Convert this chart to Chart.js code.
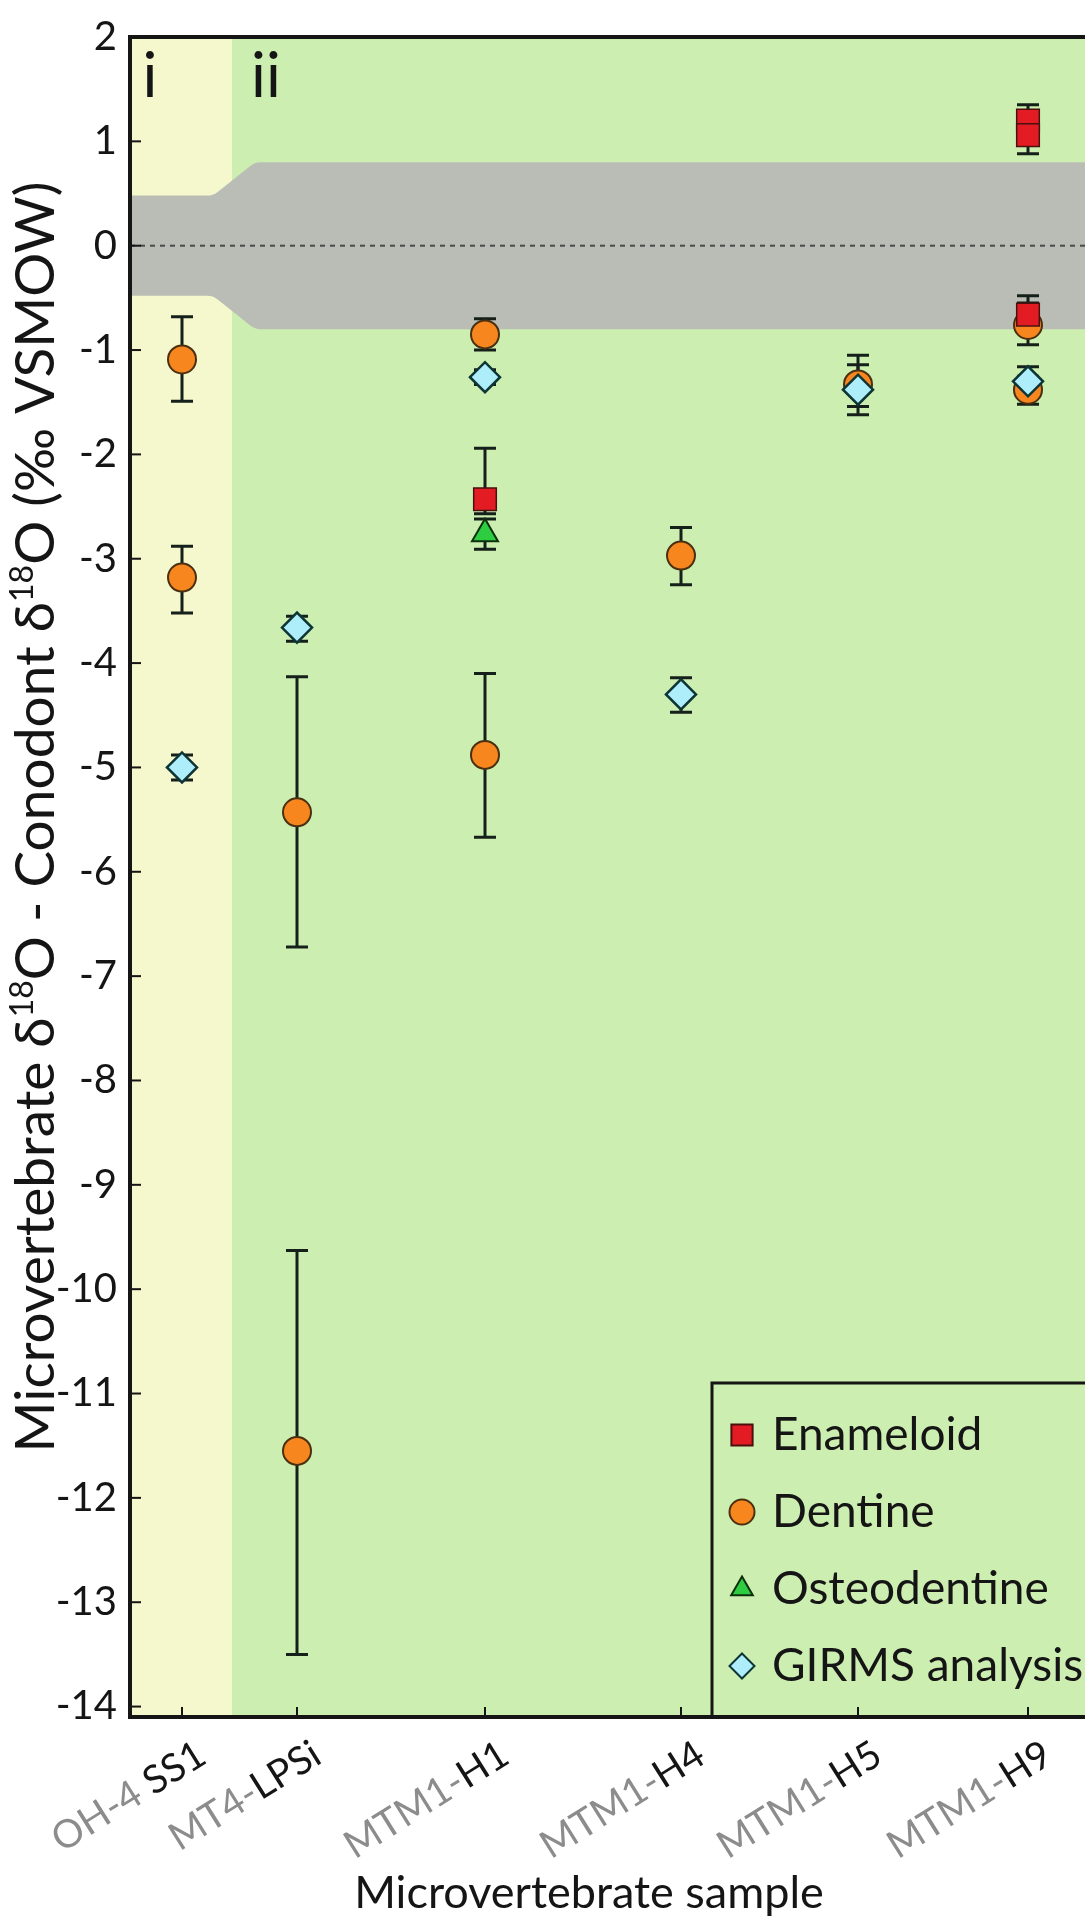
<!DOCTYPE html>
<html>
<head>
<meta charset="utf-8">
<title>Microvertebrate - Conodont d18O</title>
<script src="https://cdn.jsdelivr.net/npm/chart.js@4.4.1/dist/chart.umd.min.js"></script>
<style>
    html, body { margin: 0; padding: 0; background: #ffffff; }
    #wrap { width: 1085px; height: 1923px; }
</style>
</head>
<body>
<div id="wrap"><canvas id="isoChart" width="1085" height="1923"></canvas></div>
<script>
// Amostras do eixo x (prefixo cinza + sufixo preto) e posição no eixo
const samplePrefix = ['OH-4 ', 'MT4-', 'MTM1-', 'MTM1-', 'MTM1-', 'MTM1-'];
const sampleSuffix = ['SS1', 'LPSi', 'H1', 'H4', 'H5', 'H9'];
const samplePos = [0.52, 1.67, 3.55, 5.51, 7.28, 8.98];

// Eixo y
const yTickValues = [2, 1, 0, -1, -2, -3, -4, -5, -6, -7, -8, -9, -10, -11, -12, -13, -14];
const yMax = 2;
const yMin = -14.1;
const xMin = 0;
const xMax = 9.55;

// Enameloid
const enameloidSample = [2, 5, 5, 5];
const enameloidValue = [-2.43, 1.2, 1.06, -0.66];
const enameloidLow = [-2.57, 1.08, 0.88, -0.82];
const enameloidHigh = [-1.94, 1.35, 1.18, -0.48];

// Dentine
const dentineSample = [0, 0, 1, 1, 2, 2, 3, 4, 5, 5];
const dentineValue = [-1.09, -3.18, -5.43, -11.55, -0.85, -4.88, -2.97, -1.33, -0.76, -1.38];
const dentineLow = [-1.49, -3.52, -6.72, -13.5, -1.0, -5.67, -3.25, -1.62, -0.95, -1.52];
const dentineHigh = [-0.68, -2.88, -4.13, -9.63, -0.7, -4.1, -2.7, -1.05, -0.55, -1.25];

// Osteodentine
const osteoSample = [2];
const osteoValue = [-2.76];
const osteoLow = [-2.91];
const osteoHigh = [-2.62];

// GIRMS analysis
const girmsSample = [0, 1, 2, 3, 4, 5];
const girmsValue = [-5.0, -3.66, -1.26, -4.3, -1.38, -1.3];
const girmsLow = [-5.12, -3.79, -1.33, -4.47, -1.54, -1.45];
const girmsHigh = [-4.88, -3.55, -1.19, -4.14, -1.14, -1.16];

// Zonas de fundo (i / ii) e faixa cinza em torno de zero
const zoneBreak = 1.02;
const bandX = [0, 0.83, 1.25, 9.6];
const bandHalf = [0.48, 0.48, 0.8, 0.8];
const zoneLabels = ['i', 'ii'];
const zoneLabelX = [0.2, 1.36];

const FONT = "Lato, 'Open Sans', sans-serif";
const INK = '#151515';

function buildPoints(samples, values, lows, highs) {
    return values.map((v, i) => ({ x: samplePos[samples[i]], y: v, lo: lows[i], hi: highs[i] }));
}

// Desenha um marcador (usado na legenda)
function drawMarker(ctx, style, cx, cy, r) {
    ctx.beginPath();
    if (style === 'circle') {
        ctx.arc(cx, cy, r, 0, Math.PI * 2);
    } else if (style === 'rect') {
        const s = r * Math.SQRT1_2;
        ctx.rect(cx - s, cy - s, 2 * s, 2 * s);
    } else if (style === 'triangle') {
        ctx.moveTo(cx, cy - r);
        ctx.lineTo(cx + r * 0.866, cy + r * 0.5);
        ctx.lineTo(cx - r * 0.866, cy + r * 0.5);
        ctx.closePath();
    } else {
        ctx.moveTo(cx, cy - r);
        ctx.lineTo(cx + r, cy);
        ctx.lineTo(cx, cy + r);
        ctx.lineTo(cx - r, cy);
        ctx.closePath();
    }
    ctx.fill();
    ctx.stroke();
}

// Fundo: zonas, faixa cinza e linha pontilhada em zero
const backgroundPlugin = {
    id: 'zonesBackground',
    beforeDraw(chart) {
        const { ctx, chartArea: a, scales: { x, y } } = chart;
        const xb = x.getPixelForValue(zoneBreak);
        ctx.save();
        ctx.fillStyle = '#f5f7cd';
        ctx.fillRect(a.left, a.top, xb - a.left, a.bottom - a.top);
        ctx.fillStyle = '#cdeeb1';
        ctx.fillRect(xb, a.top, chart.width - xb, a.bottom - a.top);

        const top = bandX.map((v, i) => [x.getPixelForValue(v), y.getPixelForValue(bandHalf[i])]);
        const bot = bandX.map((v, i) => [x.getPixelForValue(v), y.getPixelForValue(-bandHalf[i])]).reverse();
        const pts = top.concat(bot);
        ctx.fillStyle = '#babdb5';
        ctx.beginPath();
        ctx.moveTo(pts[0][0], pts[0][1]);
        for (let i = 1; i < pts.length; i++) {
            if (i === 1 || i === 2 || i === 5 || i === 6) {
                ctx.arcTo(pts[i][0], pts[i][1], pts[i + 1][0], pts[i + 1][1], 16);
            } else {
                ctx.lineTo(pts[i][0], pts[i][1]);
            }
        }
        ctx.closePath();
        ctx.fill();

        const y0 = y.getPixelForValue(0);
        ctx.strokeStyle = '#4a4a4a';
        ctx.lineWidth = 2;
        ctx.setLineDash([5, 5]);
        ctx.beginPath();
        ctx.moveTo(a.left, y0);
        ctx.lineTo(chart.width, y0);
        ctx.stroke();
        ctx.restore();
    }
};

// Barras de erro desenhadas por baixo dos marcadores
const errorBarPlugin = {
    id: 'errorBars',
    beforeDatasetsDraw(chart) {
        const { ctx, scales: { x, y } } = chart;
        ctx.save();
        ctx.strokeStyle = '#16201a';
        ctx.lineWidth = 3;
        chart.data.datasets.forEach(ds => {
            ds.data.forEach(p => {
                const px = x.getPixelForValue(p.x);
                const yl = y.getPixelForValue(p.lo);
                const yh = y.getPixelForValue(p.hi);
                ctx.beginPath();
                ctx.moveTo(px, yl);
                ctx.lineTo(px, yh);
                ctx.moveTo(px - 11, yl);
                ctx.lineTo(px + 11, yl);
                ctx.moveTo(px - 11, yh);
                ctx.lineTo(px + 11, yh);
                ctx.stroke();
            });
        });
        ctx.restore();
    }
};

// Moldura, marcas, rótulos do eixo x, títulos e legenda
const decorPlugin = {
    id: 'decor',
    afterDraw(chart) {
        const { ctx, chartArea: a, scales: { x, y } } = chart;
        const right = chart.width + 2;
        ctx.save();

        // marcas internas
        ctx.strokeStyle = INK;
        ctx.lineWidth = 2;
        yTickValues.forEach(v => {
            const py = y.getPixelForValue(v);
            ctx.beginPath();
            ctx.moveTo(a.left, py);
            ctx.lineTo(a.left + 11, py);
            ctx.stroke();
        });
        samplePos.forEach(v => {
            const px = x.getPixelForValue(v);
            ctx.beginPath();
            ctx.moveTo(px, a.bottom);
            ctx.lineTo(px, a.bottom - 10);
            ctx.stroke();
        });

        // moldura
        ctx.lineWidth = 4;
        ctx.beginPath();
        ctx.moveTo(right, a.top);
        ctx.lineTo(a.left, a.top);
        ctx.lineTo(a.left, a.bottom);
        ctx.lineTo(right, a.bottom);
        ctx.stroke();

        // rótulos das zonas
        ctx.fillStyle = INK;
        ctx.font = '62px ' + FONT;
        ctx.textAlign = 'center';
        ctx.textBaseline = 'alphabetic';
        zoneLabels.forEach((t, i) => ctx.fillText(t, x.getPixelForValue(zoneLabelX[i]), a.top + 60));

        // rótulos do eixo x (rotacionados, duas cores)
        ctx.font = '39px ' + FONT;
        ctx.textAlign = 'left';
        ctx.textBaseline = 'middle';
        samplePos.forEach((v, i) => {
            const wp = ctx.measureText(samplePrefix[i]).width;
            const ws = ctx.measureText(sampleSuffix[i]).width;
            ctx.save();
            ctx.translate(x.getPixelForValue(v) + 20, a.bottom + 34);
            ctx.rotate(-32 * Math.PI / 180);
            ctx.fillStyle = '#8c8c8c';
            ctx.fillText(samplePrefix[i], -(wp + ws), 0);
            ctx.fillStyle = INK;
            ctx.fillText(sampleSuffix[i], -ws, 0);
            ctx.restore();
        });

        // título do eixo x, ajustado à largura do original
        const xTitle = 'Microvertebrate sample';
        ctx.font = '46px ' + FONT;
        const titleSize = 46 * 470 / ctx.measureText(xTitle).width;
        ctx.fillStyle = INK;
        ctx.font = titleSize.toFixed(1) + 'px ' + FONT;
        ctx.textAlign = 'center';
        ctx.textBaseline = 'alphabetic';
        ctx.fillText(xTitle, 589, 1908);

        // título do eixo y com sobrescritos
        const parts = [['Microvertebrate \u03b4', false], ['18', true], ['O - Conodont \u03b4', false], ['18', true], ['O (\u2030 VSMOW)', false]];
        const big = '55px ' + FONT;
        const small = '32px ' + FONT;
        let total = 0;
        parts.forEach(p => { ctx.font = p[1] ? small : big; total += ctx.measureText(p[0]).width; });
        ctx.save();
        ctx.translate(36, (a.top + a.bottom) / 2 - 60);
        ctx.rotate(-Math.PI / 2);
        ctx.textAlign = 'left';
        ctx.textBaseline = 'middle';
        let cx = -total / 2;
        parts.forEach(p => {
            ctx.font = p[1] ? small : big;
            ctx.fillText(p[0], cx, p[1] ? -13 : 0);
            cx += ctx.measureText(p[0]).width;
        });
        ctx.restore();

        // legenda
        const lx = 712, ly = 1383;
        ctx.lineWidth = 3;
        ctx.strokeStyle = INK;
        ctx.strokeRect(lx, ly, 500, a.bottom - ly);
        ctx.font = '46px ' + FONT;
        ctx.textAlign = 'left';
        ctx.textBaseline = 'middle';
        chart.data.datasets.forEach((ds, i) => {
            const rowY = ly + 52 + i * 77;
            ctx.fillStyle = ds.backgroundColor;
            ctx.strokeStyle = ds.borderColor;
            ctx.lineWidth = 2;
            drawMarker(ctx, ds.pointStyle, lx + 30, rowY, ds.pointStyle === 'rect' ? 15 : 12.5);
            ctx.fillStyle = INK;
            ctx.fillText(ds.label, lx + 60, rowY);
        });

        ctx.restore();
    }
};

new Chart(document.getElementById('isoChart').getContext('2d'), {
    type: 'scatter',
    data: {
        datasets: [
            {
                label: 'Enameloid',
                data: buildPoints(enameloidSample, enameloidValue, enameloidLow, enameloidHigh),
                pointStyle: 'rect',
                pointRadius: 16,
                backgroundColor: '#e31b23',
                borderColor: '#4a1010',
                borderWidth: 1.5,
                order: 1
            },
            {
                label: 'Dentine',
                data: buildPoints(dentineSample, dentineValue, dentineLow, dentineHigh),
                pointStyle: 'circle',
                pointRadius: 14,
                backgroundColor: '#f7861f',
                borderColor: '#4a3010',
                borderWidth: 2,
                order: 3
            },
            {
                label: 'Osteodentine',
                data: buildPoints(osteoSample, osteoValue, osteoLow, osteoHigh),
                pointStyle: 'triangle',
                pointRadius: 15,
                backgroundColor: '#2ecc40',
                borderColor: '#0c300c',
                borderWidth: 2,
                order: 2
            },
            {
                label: 'GIRMS analysis',
                data: buildPoints(girmsSample, girmsValue, girmsLow, girmsHigh),
                pointStyle: 'rectRot',
                pointRadius: 15,
                backgroundColor: '#aeeefa',
                borderColor: '#0e3535',
                borderWidth: 2.5,
                order: 0
            }
        ]
    },
    options: {
        responsive: false,
        animation: false,
        layout: { autoPadding: false, padding: { top: 28, right: 0, left: 0, bottom: 0 } },
        plugins: {
            legend: { display: false },
            tooltip: { enabled: false }
        },
        scales: {
            x: {
                type: 'linear',
                min: xMin,
                max: xMax,
                grid: { display: false },
                border: { display: false },
                ticks: { display: false },
                afterFit: s => { s.height = 206; s.paddingLeft = 0; s.paddingRight = 0; }
            },
            y: {
                type: 'linear',
                min: yMin,
                max: yMax,
                grid: { display: false, drawTicks: false },
                border: { display: false },
                ticks: { color: INK, font: { family: FONT, size: 40 }, padding: 13 },
                afterBuildTicks: s => { s.ticks = yTickValues.map(v => ({ value: v })); },
                afterFit: s => { s.width = 130; }
            }
        }
    },
    plugins: [backgroundPlugin, errorBarPlugin, decorPlugin]
});
</script>
</body>
</html>
